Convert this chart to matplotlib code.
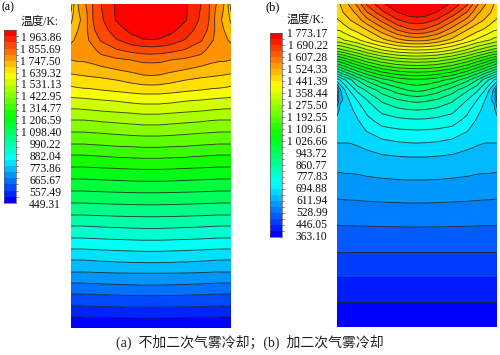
import numpy as np
import matplotlib
matplotlib.use("Agg")
import matplotlib.pyplot as plt
from matplotlib.colors import LinearSegmentedColormap

plt.rcParams['font.family'] = ['Liberation Serif', 'Noto Sans CJK SC', 'DejaVu Sans']

W, H = 500, 355

labels_a = ["1 963.86", "1 855.69", "1 747.50", "1 639.32", "1 531.13", "1 422.95", "1 314.77", "1 206.59",
            "1 098.40", "990.22", "882.04", "773.86", "665.67", "557.49", "449.31"]
labels_b = ["1 773.17", "1 690.22", "1 607.28", "1 524.33", "1 441.39", "1 358.44", "1 275.50", "1 192.55",
            "1 109.61", "1 026.66", "943.72", "860.77", "777.83", "694.88", "611.94", "528.99", "446.05", "363.10"]

# half of each field (left edge -> axis), mirrored later. values are in colour bands
cols = [0, 3, 7, 12, 20, 30, 45, 60, 72, 80]

rows_a = [4, 12, 20, 30, 40, 50, 60, 70, 80, 90, 100, 110, 120, 132, 144, 155, 167, 179, 191, 203, 215, 226,
          238, 249, 260, 272, 283, 294, 306, 317, 328]
field_a = [
    [20.5, 22.0, 23.0, 23.6, 24.8, 26.0, 27.1, 27.9, 28.0, 28.0],
    [21.0, 22.3, 22.95, 23.2, 24.8, 25.9, 27.1, 27.7, 27.95, 27.95],
    [21.7, 22.5, 22.95, 23.05, 24.8, 25.8, 27.05, 27.55, 27.8, 27.85],
    [22.5, 22.8, 23.0, 23.2, 24.7, 25.5, 26.55, 27.25, 27.45, 27.5],
    [22.9, 23.0, 23.3, 23.5, 24.2, 25.1, 25.9, 26.6, 26.95, 26.97],
    [23.2, 23.3, 23.4, 23.5, 23.6, 24.4, 24.9, 25.3, 25.5, 25.55],
    [23.0, 23.05, 23.1, 23.1, 23.2, 23.5, 23.8, 24.0, 24.2, 24.2],
    [22.3, 22.35, 22.4, 22.45, 22.6, 22.7, 22.95, 23.2, 23.45, 23.5],
    [21.5, 21.55, 21.6, 21.65, 21.7, 21.8, 22.0, 22.3, 22.55, 22.6],
    [20.7, 20.75, 20.8, 20.85, 20.9, 21.0, 21.15, 21.3, 21.4, 21.4],
    [19.75, 19.77, 19.8, 19.82, 19.9, 20.0, 20.1, 20.3, 20.4, 20.4],
    [18.9, 18.9, 18.9, 18.95, 19.0, 19.1, 19.2, 19.3, 19.4, 19.4],
    [18.0, 18.0, 18.0, 18.0, 18.05, 18.15, 18.25, 18.35, 18.45, 18.45],
    [17.0, 17.0, 17.0, 17.0, 17.05, 17.1, 17.2, 17.3, 17.35, 17.35],
    [16.0, 16.0, 16.0, 16.0, 16.05, 16.1, 16.2, 16.25, 16.3, 16.3],
    [15.0, 15.0, 15.0, 15.0, 15.05, 15.1, 15.2, 15.25, 15.3, 15.3],
    [14.0, 14.0, 14.0, 14.0, 14.03, 14.07, 14.12, 14.17, 14.2, 14.2],
    [13.0, 13.0, 13.0, 13.0, 13.03, 13.07, 13.12, 13.17, 13.2, 13.2],
    [12.0, 12.0, 12.0, 12.0, 12.03, 12.06, 12.1, 12.13, 12.15, 12.15],
    [11.0, 11.0, 11.0, 11.0, 11.03, 11.06, 11.1, 11.13, 11.15, 11.15],
    [10.0, 10.0, 10.0, 10.0, 10.03, 10.06, 10.1, 10.13, 10.15, 10.15],
    [9.0, 9.0, 9.0, 9.0, 9.04, 9.08, 9.13, 9.17, 9.2, 9.2],
    [8.0, 8.0, 8.0, 8.0, 8.04, 8.08, 8.13, 8.17, 8.2, 8.2],
    [7.0, 7.0, 7.0, 7.0, 7.04, 7.08, 7.13, 7.17, 7.2, 7.2],
    [6.0, 6.0, 6.0, 6.0, 6.05, 6.1, 6.17, 6.22, 6.25, 6.25],
    [5.0, 5.0, 5.0, 5.0, 5.02, 5.05, 5.08, 5.1, 5.1, 5.1],
    [4.0, 4.0, 4.0, 4.0, 4.04, 4.08, 4.13, 4.17, 4.2, 4.2],
    [3.0, 3.0, 3.0, 3.0, 3.03, 3.06, 3.1, 3.13, 3.15, 3.15],
    [2.0, 2.0, 2.0, 2.0, 2.02, 2.05, 2.08, 2.1, 2.1, 2.1],
    [1.0, 1.0, 1.0, 1.0, 1.02, 1.04, 1.06, 1.08, 1.1, 1.1],
    [0.0, 0.0, 0.0, 0.0, 0.0, 0.0, 0.0, 0.0, 0.0, 0.0],
]

rows_b = [4, 12, 20, 30, 40, 50, 60, 70, 80, 90, 100, 110, 120, 130, 143, 157, 180, 203, 227, 252, 277, 302, 327]
field_b = [
    [26.7, 27.0, 27.5, 28.1, 29.2, 31.2, 32.8, 33.7, 34.0, 34.0],
    [26.4, 26.7, 27.1, 27.5, 28.3, 30.0, 31.8, 33.0, 33.6, 33.7],
    [25.9, 26.1, 26.5, 26.9, 27.5, 28.7, 30.3, 31.9, 32.5, 32.6],
    [25.0, 25.1, 25.4, 25.8, 26.3, 27.0, 28.5, 30.0, 30.8, 31.0],
    [23.6, 23.7, 24.0, 24.3, 24.8, 25.6, 26.7, 27.7, 28.2, 28.3],
    [20.5, 20.7, 21.0, 21.4, 22.0, 22.9, 24.0, 24.7, 24.95, 25.0],
    [16.5, 16.8, 17.2, 17.8, 18.6, 19.6, 20.7, 21.4, 21.65, 21.7],
    [12.5, 13.0, 13.6, 14.3, 15.3, 16.4, 17.6, 18.3, 18.55, 18.6],
    [8.5, 9.0, 9.8, 10.5, 12.0, 13.3, 14.6, 15.4, 15.75, 15.8],
    [5.0, 6.8, 7.8, 9.0, 10.2, 11.2, 12.5, 13.5, 14.1, 14.3],
    [4.7, 6.8, 7.1, 8.0, 9.0, 10.0, 11.2, 11.9, 12.2, 12.3],
    [6.4, 7.3, 7.6, 7.7, 8.3, 9.3, 10.3, 10.75, 10.95, 11.0],
    [7.4, 7.5, 7.55, 7.6, 7.9, 8.7, 9.5, 9.75, 9.88, 9.9],
    [7.3, 7.3, 7.3, 7.3, 7.5, 8.1, 8.7, 8.9, 8.98, 9.0],
    [7.0, 7.0, 7.0, 7.0, 7.1, 7.3, 7.7, 7.9, 7.98, 8.0],
    [6.5, 6.5, 6.5, 6.5, 6.6, 6.7, 6.85, 6.95, 7.0, 7.0],
    [5.75, 5.75, 5.8, 5.8, 5.8, 5.87, 5.93, 5.98, 6.0, 6.0],
    [4.85, 4.85, 4.87, 4.88, 4.9, 4.93, 4.96, 4.98, 5.0, 5.0],
    [3.95, 3.95, 3.95, 3.95, 3.96, 3.97, 3.98, 3.99, 4.0, 4.0],
    [3.0, 3.0, 3.0, 3.0, 3.0, 3.0, 3.0, 3.0, 3.0, 3.0],
    [2.0, 2.0, 2.0, 2.0, 2.0, 2.0, 2.0, 2.0, 2.0, 2.0],
    [1.0, 1.0, 1.0, 1.0, 1.0, 1.0, 1.0, 1.0, 1.0, 1.0],
    [0.0, 0.0, 0.0, 0.0, 0.0, 0.0, 0.0, 0.0, 0.0, 0.0],
]

rainbow = LinearSegmentedColormap.from_list("fluent", ["#0000ff", "#00ffff", "#00ff00", "#ffff00", "#ff0000"])


def px_axes(fig, x0, y0, x1, y1):
    return fig.add_axes([x0 / W, 1 - y1 / H, (x1 - x0) / W, (y1 - y0) / H])


def panel(fig, rows, field, n, box, bar, labels, lab_x, lab_top, lab_step, title, title_xy):
    xs = np.array(cols + [160 - c for c in cols[-2::-1]], dtype=float)
    half = np.array(field)
    z = np.hstack([half, half[:, -2::-1]])
    vmin = float(labels[-1].replace(" ", ""))
    vmax = float(labels[0].replace(" ", ""))
    temp = vmin + z * (vmax - vmin) / n
    levels = np.linspace(vmin, vmax, n + 1)
    colors = [rainbow(i / (n - 1)) for i in range(n)]

    ax = px_axes(fig, *box)
    ax.contourf(xs, rows, temp, levels=levels, colors=colors)
    ax.contour(xs, rows, temp, levels=levels[1:-1], colors='#222222', linewidths=0.65, alpha=0.85)
    ax.set_xlim(0, 160)
    ax.set_ylim(box[3], box[1])
    ax.axis('off')

    cax = px_axes(fig, *bar)
    cax.pcolormesh([0, 1], levels, np.arange(n).reshape(-1, 1), cmap=matplotlib.colors.ListedColormap(colors))
    cax.set_xticks([])
    cax.yaxis.tick_right()
    cax.set_yticks(levels[1:-1], labels=[])
    cax.tick_params(axis='y', length=1.5, width=0.5, color='#444444')
    for s in cax.spines.values():
        s.set_linewidth(0.5)
        s.set_color('#555555')

    for i, lab in enumerate(labels):
        fig.text(lab_x / W, 1 - (lab_top + i * lab_step) / H, lab, ha='right', va='center', fontsize=8.3,
                 color='#111111')
    fig.text(title_xy[0] / W, 1 - title_xy[1] / H, title, ha='left', va='center', fontsize=8.4, color='#111111')


fig = plt.figure(figsize=(5, 3.55), dpi=100)

panel(fig, rows_a, field_a, 28, (71, 4, 231, 328), (4, 30, 16, 203), labels_a, 61, 37.7, 11.95, "温度/K:", (21, 22))
panel(fig, rows_b, field_b, 34, (337, 4, 497, 327), (270, 33, 282, 237), labels_b, 327.5, 34.3, 11.93, "温度/K:", (287, 20))

fig.text(1 / W, 1 - 7 / H, "(a)", ha='left', va='center', fontsize=8.5)
fig.text(265 / W, 1 - 7 / H, "(b)", ha='left', va='center', fontsize=9)
fig.text(250 / W, 1 - 342.5 / H, "(a)  不加二次气雾冷却；(b)  加二次气雾冷却", ha='center', va='center', fontsize=10,
         color='#222222')

fig.savefig("out.png", dpi=100)
